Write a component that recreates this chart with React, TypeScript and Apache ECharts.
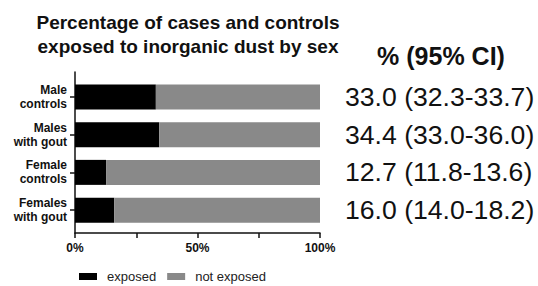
import React, { useEffect, useRef } from "react";
import * as echarts from "echarts";

const categories = ["Male\ncontrols", "Males\nwith gout", "Female\ncontrols", "Females\nwith gout"];
const exposed = [33.0, 34.4, 12.7, 16.0];
const notExposed = [67.0, 65.6, 87.3, 84.0];
const ciLabels = ["33.0 (32.3-33.7)", "34.4 (33.0-36.0)", "12.7 (11.8-13.6)", "16.0 (14.0-18.2)"];
const xTickLabels = ["0%", "", "50%", "", "100%"];
const seriesNames = ["exposed", "not exposed"];
const titleText = "Percentage of cases and controls\nexposed to inorganic dust by sex";
const ciTitle = "% (95% CI)";

const FONT = "'Liberation Sans', Arial, Helvetica, sans-serif";
const INK = "#111";

export default function App() {
  const ref = useRef<HTMLDivElement>(null);
  useEffect(() => {
    if (!ref.current) return;
    const chart = echarts.init(ref.current, undefined, { renderer: "svg" });
    chart.setOption({
      animation: false,
      backgroundColor: "#fff",
      textStyle: { fontFamily: FONT },
      graphic: [
        {
          type: "text",
          x: 188,
          y: 34,
          style: {
            text: titleText,
            textAlign: "center",
            textVerticalAlign: "middle",
            fontFamily: FONT,
            fontWeight: "bold",
            fontSize: 19,
            lineHeight: 24,
            fill: INK,
          },
        },
        {
          type: "text",
          x: 441,
          y: 56,
          style: {
            text: ciTitle,
            textAlign: "center",
            textVerticalAlign: "middle",
            fontFamily: FONT,
            fontWeight: "bold",
            fontSize: 25,
            fill: INK,
          },
        },
      ],
      legend: {
        left: 79,
        top: 270,
        padding: 0,
        itemWidth: 18,
        itemHeight: 7,
        itemGap: 11,
        icon: "rect",
        data: seriesNames,
        textStyle: { fontFamily: FONT, fontSize: 13, color: "#222", padding: [0, 0, 0, 5] },
      },
      grid: [
        { left: 75, right: 218, top: 72, bottom: 53 },
        { left: 75, right: 218, top: 78, height: 151 },
      ],
      xAxis: [
        {
          type: "value",
          gridIndex: 0,
          min: 0,
          max: 100,
          interval: 25,
          axisLine: { show: true, lineStyle: { color: INK, width: 1.5 } },
          axisTick: { show: true, length: 5, lineStyle: { color: INK, width: 1.5 } },
          splitLine: { show: false },
          axisLabel: {
            margin: 9,
            fontFamily: FONT,
            fontWeight: "bold",
            fontSize: 12,
            color: INK,
            formatter: (_v: number, i: number) => xTickLabels[i] ?? "",
          },
        },
        {
          type: "value",
          gridIndex: 1,
          min: 0,
          max: 100,
          show: false,
        },
      ],
      yAxis: [
        {
          type: "value",
          gridIndex: 0,
          min: 0,
          max: 1,
          axisLine: { show: true, lineStyle: { color: INK, width: 1.5 } },
          axisTick: { show: false },
          axisLabel: { show: false },
          splitLine: { show: false },
        },
        {
          type: "category",
          gridIndex: 1,
          position: "left",
          inverse: true,
          data: categories,
          axisLine: { show: false },
          axisTick: { show: true, alignWithLabel: true, length: 5, lineStyle: { color: INK, width: 1.5 } },
          axisLabel: {
            margin: 8,
            fontFamily: FONT,
            fontWeight: "bold",
            fontSize: 12,
            lineHeight: 14,
            color: INK,
            align: "right",
          },
        },
        {
          type: "category",
          gridIndex: 1,
          position: "right",
          inverse: true,
          data: ciLabels,
          axisLine: { show: false },
          axisTick: { show: false },
          axisLabel: {
            margin: 25,
            fontFamily: FONT,
            fontSize: 26.6,
            color: INK,
            align: "left",
          },
        },
      ],
      series: [
        {
          name: seriesNames[0],
          type: "bar",
          stack: "total",
          xAxisIndex: 1,
          yAxisIndex: 1,
          barWidth: 25,
          itemStyle: { color: "#000" },
          data: exposed,
        },
        {
          name: seriesNames[1],
          type: "bar",
          stack: "total",
          xAxisIndex: 1,
          yAxisIndex: 1,
          barWidth: 25,
          itemStyle: { color: "#898989" },
          data: notExposed,
        },
      ],
    });
    return () => chart.dispose();
  }, []);
  return (
    <div
      ref={ref}
      style={{ position: "fixed", left: 0, top: 0, width: 538, height: 286 }}
    />
  );
}
